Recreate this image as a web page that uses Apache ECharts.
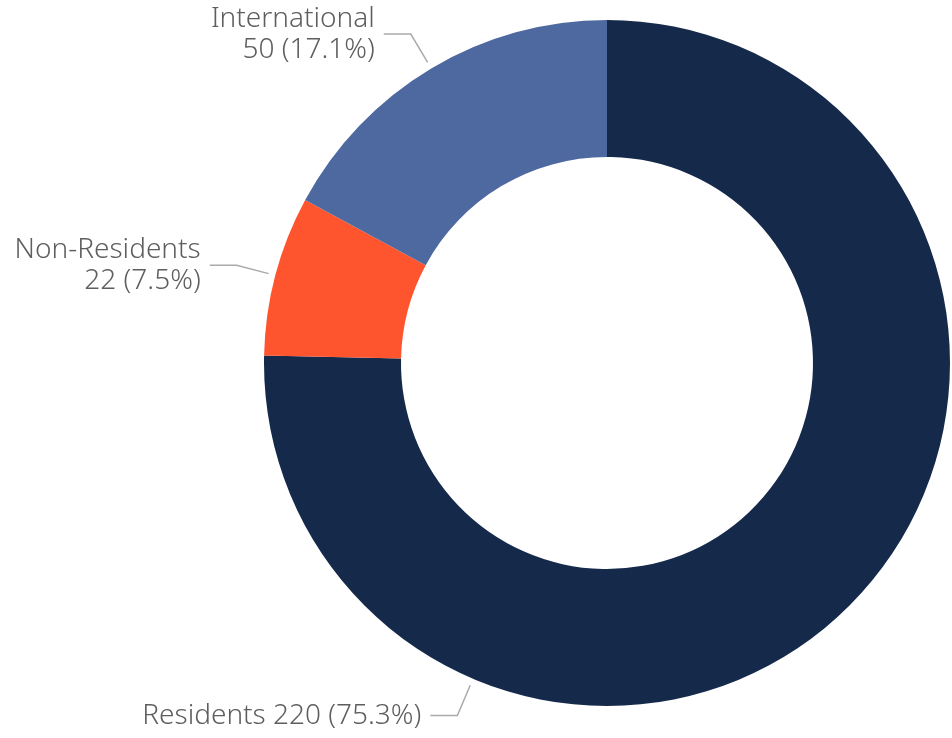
<!DOCTYPE html>
<html>
<head>
<meta charset="utf-8">
<script src="https://cdn.jsdelivr.net/npm/echarts@6/dist/echarts.min.js"></script>
<style>
html,body{margin:0;padding:0;background:#fff;}
#main{width:952px;height:738px;}
</style>
</head>
<body>
<div id="main"></div>
<script>
const categories = ['Residents', 'Non-Residents', 'International'];
const values = [220, 22, 50];
const colors = ['#15294b', '#ff552e', '#4d699f'];

const CX = 607, CY = 363, R_IN = 206, R_OUT = 343;
const LINE_GAP = 7, LEN1 = 40, LEN2 = 27, TEXT_GAP = 9;
// Residents label sits at this angle (degrees clockwise from top)
const RES_LABEL_ANGLE = 203;

const chart = echarts.init(document.getElementById('main'));
const total = values.reduce((a, b) => a + b, 0);

chart.setOption({
  animation: false,
  series: [{
    type: 'pie',
    center: [CX, CY],
    radius: [R_IN, R_OUT],
    startAngle: 90,
    clockwise: true,
    avoidLabelOverlap: false,
    data: categories.map((c, i) => ({ name: c, value: values[i], itemStyle: { color: colors[i] } })),
    label: {
      show: true,
      position: 'outside',
      fontFamily: '"Noto Sans", sans-serif',
      fontWeight: 300,
      fontSize: 28,
      lineHeight: 31,
      color: '#5e5e5e',
      distanceToLabelLine: TEXT_GAP,
      formatter: function (p) {
        const pct = (p.value / total * 100).toFixed(1);
        if (p.dataIndex === 0) return p.name + ' ' + p.value + ' (' + pct + '%)';
        return p.name + '\n' + p.value + ' (' + pct + '%)';
      }
    },
    labelLine: {
      show: true,
      length: LEN1,
      length2: LEN2,
      lineStyle: { color: '#aaaaaa', width: 1.5 }
    },
    labelLayout: function (p) {
      if (p.dataIndex === 0) {
        const a = (90 - RES_LABEL_ANGLE) * Math.PI / 180;
        const dx = Math.cos(a), dy = -Math.sin(a);
        const p1 = [CX + (R_OUT + LINE_GAP) * dx, CY + (R_OUT + LINE_GAP) * dy];
        const p2 = [CX + (R_OUT + LEN1) * dx, CY + (R_OUT + LEN1) * dy];
        const p3 = [p2[0] - LEN2, p2[1]];
        return {
          x: p3[0] - TEXT_GAP,
          y: p3[1],
          align: 'right',
          verticalAlign: 'middle',
          labelLinePoints: [p1, p2, p3]
        };
      }
      const pts = p.labelLinePoints;
      if (!pts) return {};
      const vx = pts[1][0] - pts[0][0], vy = pts[1][1] - pts[0][1];
      const l = Math.sqrt(vx * vx + vy * vy) || 1;
      const np = [[pts[0][0] + vx / l * LINE_GAP, pts[0][1] + vy / l * LINE_GAP], pts[1], pts[2]];
      return { labelLinePoints: np };
    }
  }]
});
</script>
</body>
</html>
